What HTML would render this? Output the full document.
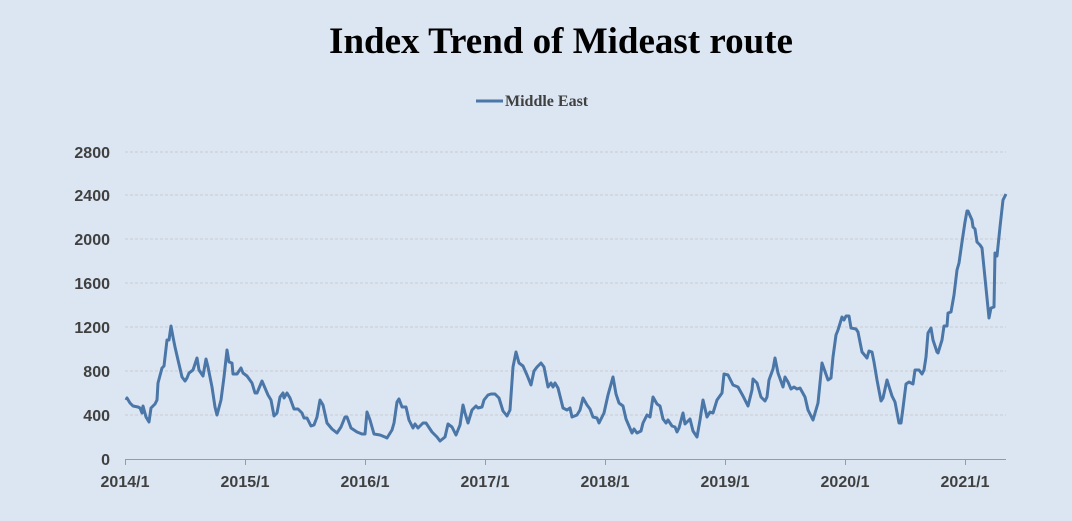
<!DOCTYPE html>
<html><head><meta charset="utf-8"><style>
body{margin:0;background:#dce6f2;}
svg{display:block}
</style></head><body>
<svg width="1072" height="521" viewBox="0 0 1072 521" xmlns="http://www.w3.org/2000/svg">
<rect width="1072" height="521" fill="#dce6f2"/>
<text x="561" y="53" text-anchor="middle" font-family="Liberation Serif, serif" font-weight="bold" font-size="37" fill="#000">Index Trend of Mideast route</text>
<line x1="476" y1="101" x2="503" y2="101" stroke="#4a76a8" stroke-width="3"/>
<text x="505" y="106" font-family="Liberation Serif, serif" font-weight="bold" font-size="16" fill="#404040">Middle East</text>
<g stroke="#c8ccd2" stroke-width="1" stroke-dasharray="3,2">
<line x1="125" y1="152" x2="1006" y2="152"/><line x1="125" y1="195" x2="1006" y2="195"/>
<line x1="125" y1="239" x2="1006" y2="239"/><line x1="125" y1="283" x2="1006" y2="283"/>
<line x1="125" y1="327" x2="1006" y2="327"/><line x1="125" y1="371" x2="1006" y2="371"/>
<line x1="125" y1="415" x2="1006" y2="415"/>
</g>
<line x1="125" y1="459.5" x2="1006" y2="459.5" stroke="#9a9a9a" stroke-width="1"/>
<g stroke="#9a9a9a"><line x1="125.5" y1="459" x2="125.5" y2="465"/><line x1="245.5" y1="459" x2="245.5" y2="465"/><line x1="365.5" y1="459" x2="365.5" y2="465"/><line x1="485.5" y1="459" x2="485.5" y2="465"/><line x1="605.5" y1="459" x2="605.5" y2="465"/><line x1="725.5" y1="459" x2="725.5" y2="465"/><line x1="845.5" y1="459" x2="845.5" y2="465"/><line x1="965.5" y1="459" x2="965.5" y2="465"/></g>
<g font-family="Liberation Sans, sans-serif" font-weight="bold" font-size="16" fill="#404040" text-anchor="end">
<text x="110" y="158">2800</text><text x="110" y="201">2400</text><text x="110" y="245">2000</text><text x="110" y="289">1600</text><text x="110" y="333">1200</text><text x="110" y="377">800</text><text x="110" y="421">400</text><text x="110" y="465">0</text>
</g>
<g font-family="Liberation Sans, sans-serif" font-weight="bold" font-size="16" fill="#404040" text-anchor="middle">
<text x="125" y="487">2014/1</text><text x="245" y="487">2015/1</text><text x="365" y="487">2016/1</text><text x="485" y="487">2017/1</text><text x="605" y="487">2018/1</text><text x="725" y="487">2019/1</text><text x="845" y="487">2020/1</text><text x="965" y="487">2021/1</text>
</g>
<polyline fill="none" stroke="#4a76a8" stroke-width="3" stroke-linejoin="round" points="126,400 127,398 130,403 133,406 138,407 140,408 142,413 143,406 146,417 149,422 151,408 155,404 157,400 158,383 162,368 164,366 167,340 169,340 171,326 173,337 175,347 178,360 182,377 185,381 187,378 189,373 193,370 197,358 199,370 203,376 206,359 208,367 212,387 215,407 217,415 221,400 224,377 227,350 229,362 232,363 233,374 237,374 241,368 243,373 247,376 252,383 255,393 257,393 262,381 265,388 268,395 271,400 274,416 277,413 280,397 283,393 284,398 287,393 290,398 294,409 298,409 302,413 304,418 307,418 311,426 314,425 317,417 320,400 323,405 327,423 332,429 337,433 341,427 345,417 347,417 351,428 357,432 362,434 365,434 367,412 370,420 374,434 380,435 385,437 387,438 392,430 394,423 397,402 399,399 402,407 406,407 409,420 413,428 415,424 418,428 423,423 426,423 432,432 437,437 440,441 445,437 448,424 452,427 456,435 460,425 463,405 465,413 468,423 472,410 476,406 478,408 482,407 484,400 488,395 491,394 495,394 499,398 503,411 507,416 510,410 513,367 516,352 519,363 523,366 527,375 531,385 534,371 537,367 541,363 544,367 548,387 551,383 553,387 555,383 558,388 563,408 567,410 570,408 572,417 577,415 580,410 583,398 587,405 590,409 593,417 597,418 599,423 604,413 608,395 613,377 616,394 619,403 623,406 626,419 632,433 634,429 637,433 641,431 643,423 647,415 650,417 653,397 657,404 660,406 663,419 666,423 668,420 672,426 675,427 677,432 679,428 683,413 685,424 690,419 693,431 697,437 700,420 703,400 707,417 710,412 713,413 717,400 722,393 724,374 728,375 733,385 738,387 743,396 748,406 752,390 753,379 757,383 761,397 765,401 767,397 769,380 773,369 775,358 778,373 783,387 785,377 788,382 791,389 794,387 797,389 800,388 805,397 808,410 813,420 818,403 822,363 828,380 831,378 833,357 836,335 838,330 842,317 844,320 846,316 849,316 851,328 856,329 858,332 862,352 867,358 869,351 872,352 874,362 877,380 881,401 883,398 887,380 892,396 895,402 899,423 901,423 903,408 906,384 909,382 913,384 915,370 919,370 922,374 924,370 926,357 928,333 931,328 933,340 937,352 938,353 942,340 944,326 947,326 948,313 951,312 954,295 957,270 959,263 962,242 965,222 967,211 968,211 972,220 973,227 975,229 977,242 980,245 982,248 985,278 989,318 991,308 994,307 995,253 997,256 1000,227 1003,200 1006,194"/>
</svg>
</body></html>
